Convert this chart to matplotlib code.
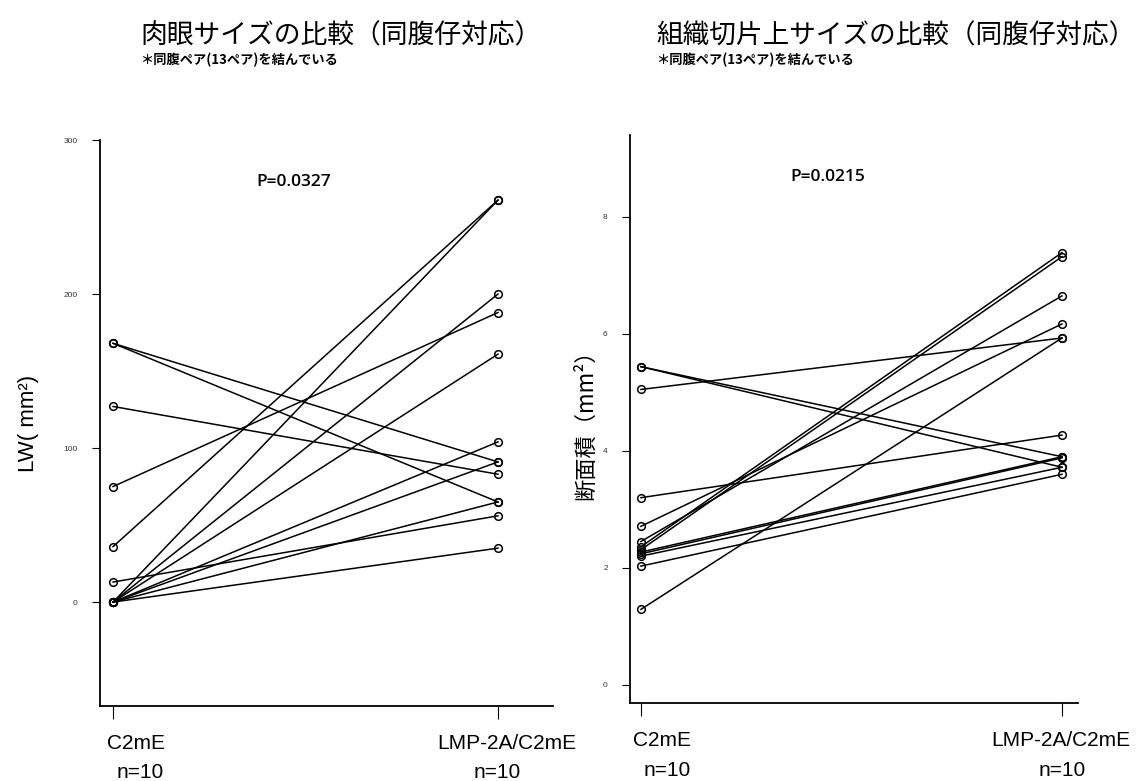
import matplotlib
matplotlib.use("Agg")
import matplotlib.pyplot as plt
import matplotlib.transforms as mtransforms

plt.rcParams['font.family'] = ['Liberation Sans', 'DejaVu Sans']
JP = ['Noto Sans CJK JP', 'DejaVu Sans']

# 同腹ペア(13ペア)のデータ
groups = ['C2mE', 'LMP-2A/C2mE']
n_labels = ['n=10', 'n=10']

# 肉眼サイズ LW (mm2)
lw_c2me = [168, 168, 127, 75, 36, 13, 0, 0, 0, 0, 0, 0, 0]
lw_lmp = [91, 65, 83, 188, 261, 56, 261, 200, 161, 104, 91, 65, 35]
lw_ticks = [0, 100, 200, 300]
lw_p = 'P=0.0327'

# 組織切片上の断面積 (mm2)
area_c2me = [5.44, 5.44, 5.05, 3.20, 2.71, 2.45, 2.36, 2.31, 2.27, 2.24, 2.20, 2.03, 1.29]
area_lmp = [3.90, 3.72, 5.93, 4.27, 6.17, 6.65, 7.39, 7.32, 3.90, 3.88, 3.72, 3.60, 5.93]
area_ticks = [0, 2, 4, 6, 8]
area_p = 'P=0.0215'

fig = plt.figure(figsize=(11.4, 7.81), dpi=100)
ax1 = fig.add_axes([0.0877, 0.096, 0.3974, 0.7247])
ax2 = fig.add_axes([0.5526, 0.0999, 0.393, 0.7272])


def paired_plot(ax, before, after, ticks, ylim, xlim, ptext, pxy, label_x, label_y):
    for b, a in zip(before, after):
        ax.plot([0, 1], [b, a], color='black', lw=1.1,
                marker='o', ms=5.5, mfc='none', mec='black', mew=1.1)
    ax.set_xlim(*xlim)
    ax.set_ylim(*ylim)
    ax.set_yticks(ticks)
    ax.set_yticklabels([str(t) for t in ticks], fontsize=6, color='#333333')
    ax.set_xticks([0, 1])
    ax.set_xticklabels(['', ''])
    ax.tick_params(axis='y', direction='out', length=6, width=0.8, pad=10)
    ax.tick_params(axis='x', direction='out', length=9, width=0.8)
    for s in ['top', 'right']:
        ax.spines[s].set_visible(False)
    for s in ['left', 'bottom']:
        ax.spines[s].set_linewidth(1.3)
    ax.text(pxy[0], pxy[1], ptext, fontsize=12.5, fontweight='semibold',
            family=['Open Sans', 'DejaVu Sans'], ha='center', va='center')
    trans = mtransforms.blended_transform_factory(ax.transData, ax.transAxes)
    for i, g in enumerate(groups):
        ax.text(label_x[i][0], label_y[0], g, transform=trans, fontsize=15,
                ha='center', va='center')
        ax.text(label_x[i][1], label_y[1], n_labels[i], transform=trans, fontsize=15,
                ha='center', va='center')


paired_plot(ax1, lw_c2me, lw_lmp, lw_ticks, (-67.5, 300), (-0.034, 1.143),
            lw_p, (0.47, 273), [(0.06, 0.07), (1.023, 0.997)], (-0.066, -0.117))
ax1.set_ylabel('LW( mm²)', fontsize=16, labelpad=18)

paired_plot(ax2, area_c2me, area_lmp, area_ticks, (-0.31, 9.40), (-0.026, 1.038),
            area_p, (0.444, 8.68), [(0.05, 0.062), (0.998, 1.0)], (-0.066, -0.119))
ax2.set_ylabel('断面積（mm²）', fontsize=16, family=JP, labelpad=4)

# タイトルと注記
fig.text(140 / 1140, 1 - 36 / 781, '肉眼サイズの比較（同腹仔対応）', fontsize=19.3,
         family=JP, ha='left', va='center')
fig.text(140 / 1140, 1 - 60 / 781, '＊同腹ペア(13ペア)を結んでいる', fontsize=9.5,
         family=JP, fontweight='bold', ha='left', va='center')
fig.text(656 / 1140, 1 - 36 / 781, '組織切片上サイズの比較（同腹仔対応）', fontsize=19.2,
         family=JP, ha='left', va='center')
fig.text(656 / 1140, 1 - 60 / 781, '＊同腹ペア(13ペア)を結んでいる', fontsize=9.5,
         family=JP, fontweight='bold', ha='left', va='center')

fig.savefig('out.png', dpi=100)
plt.close(fig)
